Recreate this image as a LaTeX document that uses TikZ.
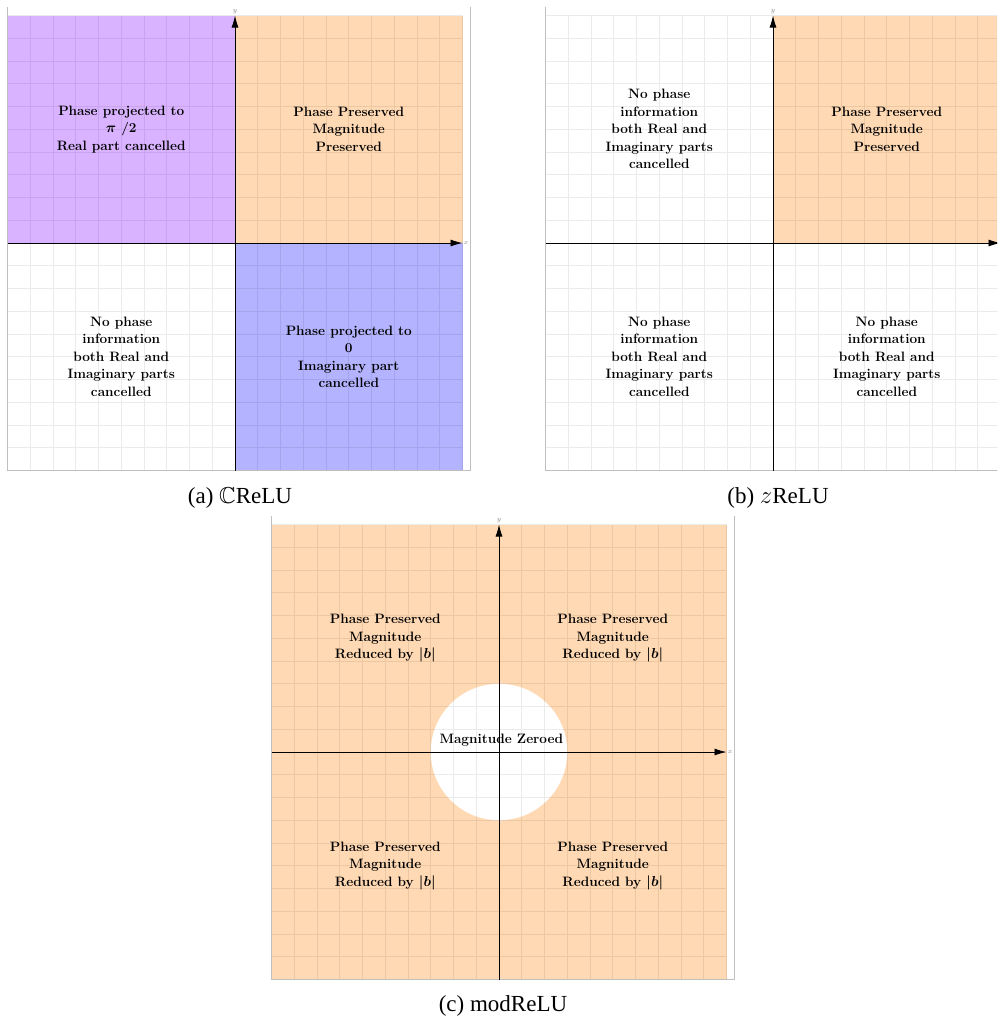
\documentclass[tikz,border=0pt]{standalone}
\usepackage{amsmath, amssymb}
\usepackage{fontspec}
\usepackage{xcolor}
\usepackage{tikz}
\usetikzlibrary{arrows.meta}

\newfontfamily\capfont{Liberation Serif}

\definecolor{presfill}{RGB}{255,217,179}
\definecolor{imagfill}{RGB}{179,179,255}
\definecolor{realfill}{RGB}{217,179,255}

\tikzset{
  region/.style={align=center, inner sep=0pt, font=\fontsize{13.6}{17.5}\selectfont\bfseries\boldmath},
  axislabel/.style={inner sep=1pt, text=gray, font=\fontsize{7}{8}\selectfont},
  gridline/.style={draw=black, opacity=0.08, line width=0.8pt},
  axisline/.style={line width=0.9pt, -{Latex[length=12pt,width=7pt]}},
  frameline/.style={draw=black!25, line width=1pt},
  caption/.style={anchor=base, font=\capfont\fontsize{23}{26}\selectfont}
}

\begin{document}
\begin{tikzpicture}[x=1pt, y=1pt]
\useasboundingbox (0,0) rectangle (997,-1017);
\clip (0,0) rectangle (997,-1017);

% (a) CReLU
\begin{scope}[shift={(235,-243)}, x=22.75pt, y=22.75pt]
\fill[realfill] (-10,0) rectangle (0,10);
\fill[presfill] (0,0) rectangle (10,10);
\fill[imagfill] (0,-10) rectangle (10,0);
\draw[gridline] (-10,-10) grid[step=1] (10,10);
\draw[frameline] (-10,10.37) |- (10.37,-10) -- (10.37,10.37);
\draw[axisline] (-10,0) -- (10,0) node[right, axislabel] (a-x) {$x$};
\draw[axisline] (0,-10) -- (0,10) node[above, axislabel] (a-y) {$y$};
\node[region] (a-q2) at (-5,5) {Phase projected to\\ $\pi$ /2\\ Real part cancelled};
\node[region] (a-q1) at (5,5) {Phase Preserved\\ Magnitude\\ Preserved};
\node[region] (a-q3) at (-5,-5) {No phase\\ information\\ both Real and\\ Imaginary parts\\ cancelled};
\node[region] (a-q4) at (5,-5) {Phase projected to\\ 0\\ Imaginary part\\ cancelled};
\end{scope}

% (b) zReLU
\begin{scope}[shift={(773,-243)}, x=22.75pt, y=22.75pt]
\fill[presfill] (0,0) rectangle (10,10);
\draw[gridline] (-10,-10) grid[step=1] (10,10);
\draw[frameline] (-10,10.37) |- (10.37,-10) -- (10.37,10.37);
\draw[axisline] (-10,0) -- (10,0) node[right, axislabel] (b-x) {$x$};
\draw[axisline] (0,-10) -- (0,10) node[above, axislabel] (b-y) {$y$};
\node[region] (b-q2) at (-5,5) {No phase\\ information\\ both Real and\\ Imaginary parts\\ cancelled};
\node[region] (b-q1) at (5,5) {Phase Preserved\\ Magnitude\\ Preserved};
\node[region] (b-q3) at (-5,-5) {No phase\\ information\\ both Real and\\ Imaginary parts\\ cancelled};
\node[region] (b-q4) at (5,-5) {No phase\\ information\\ both Real and\\ Imaginary parts\\ cancelled};
\end{scope}

% (c) modReLU
\begin{scope}[shift={(499,-752)}, x=22.75pt, y=22.75pt]
\fill[presfill] (-10,-10) rectangle (10,10);
\fill[white] (0,0) circle (3);
\draw[gridline] (-10,-10) grid[step=1] (10,10);
\draw[frameline] (-10,10.37) |- (10.37,-10) -- (10.37,10.37);
\draw[axisline] (-10,0) -- (10,0) node[right, axislabel] (c-x) {$x$};
\draw[axisline] (0,-10) -- (0,10) node[above, axislabel] (c-y) {$y$};
\node[region] (c-q2) at (-5,5) {Phase Preserved\\ Magnitude\\ Reduced by $|b|$};
\node[region] (c-q1) at (5,5) {Phase Preserved\\ Magnitude\\ Reduced by $|b|$};
\node[region] (c-q3) at (-5,-5) {Phase Preserved\\ Magnitude\\ Reduced by $|b|$};
\node[region] (c-q4) at (5,-5) {Phase Preserved\\ Magnitude\\ Reduced by $|b|$};
\node[region] (c-zero) at (0.1,0.5) {Magnitude Zeroed};
\end{scope}

% captions
\node[caption] (cap-a) at (240,-503) {(a) $\mathbb{C}$ReLU};
\node[caption] (cap-b) at (778,-503) {(b) $z$ReLU};
\node[caption] (cap-c) at (503,-1011) {(c) modReLU};
\end{tikzpicture}
\end{document}
